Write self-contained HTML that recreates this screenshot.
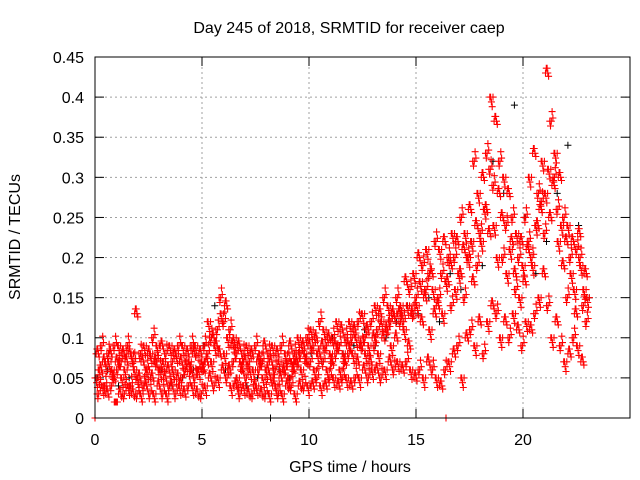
<!DOCTYPE html>
<html><head><meta charset="utf-8"><style>
body{margin:0;background:#fff}
svg{display:block;font-family:"Liberation Sans",sans-serif;font-size:16px}
</style></head><body>
<svg id="chart" width="640" height="480">
<text x="349" y="33" text-anchor="middle">Day 245 of 2018, SRMTID for receiver caep</text>
<text x="350" y="472" text-anchor="middle">GPS time / hours</text>
<text transform="translate(20,237) rotate(-90)" text-anchor="middle">SRMTID / TECUs</text>
<g id="grid"></g>
<g id="ticks"></g>
<g id="black"></g>
<g id="red"></g>
<rect x="95" y="57" width="535" height="361" fill="none" stroke="#000"/>
</svg>
<script>
const xTicks=[0,5,10,15,20];
const yTicks=[0,0.05,0.1,0.15,0.2,0.25,0.3,0.35,0.4,0.45];
const yTickLabels=["0","0.05","0.1","0.15","0.2","0.25","0.3","0.35","0.4","0.45"];
const step=0.2;
const redA=[5,6,4,7,5,6,5,7,4,6,5,4,6,5,7,6,5,4,6,5,5,7,6,5,6,6,8,7,9,15,8,6,7,5,6,5,6,4,6,5,6,5,4,5,6,5,6,7,6,7,7,6,8,7,6,7,8,6,7,8,8,7,9,8,7,9,8,10,11,9,10,12,11,9,13,14,12,16,11,13,15,13,17,14,16,18,15,20,17,19,22,26,31,24,28,20,18,22,16,15,17,22,19,24,27,28,25,30,22,19,15,18,13,20,16];
const redB=[8,9,7,8,9,9,8,9,8,13,8,9,8,10,9,9,8,9,8,9,9,8,9,9,8,9,12,10,11,13,14,11,10,9,8,9,8,9,8,9,8,9,8,9,8,9,8,10,9,10,11,10,12,11,10,10,12,11,10,12,11,12,13,11,12,14,13,15,14,13,15,14,17,16,18,20,19,21,18,22,21,22,20,23,22,25,23,26,32,28,30,33,40,37,32,30,28,25,23,22,25,30,33,28,32,43,37,33,30,25,24,22,21,19,18];
const redC=[3,4,3,4,2,3,3,4,3,3,3,4,3,3,4,3,3,4,3,4,3,4,4,3,3,4,5,4,5,6,5,4,4,3,4,3,3,4,3,3,3,4,3,3,4,4,3,4,4,4,4,5,4,4,5,5,4,5,5,4,5,5,6,5,6,6,5,6,7,6,7,6,7,6,5,6,5,7,6,5,4,6,7,8,9,5,10,11,9,12,8,12,14,13,10,12,10,13,11,9,12,11,13,15,18,14,10,12,9,7,8,10,9,7,12];
const redD=[6,7,8,6,7,7,6,8,7,5,7,6,8,7,6,7,6,7,8,7,6,7,8,6,7,7,10,9,8,12,10,9,8,7,7,7,6,7,7,6,7,6,7,6,7,7,7,8,8,9,9,8,9,9,8,9,9,8,9,10,10,9,10,9,10,11,12,11,12,13,13,12,14,13,15,17,15,18,16,14,18,17,19,20,18,21,20,22,24,23,26,23,29,20,25,24,21,18,20,19,21,20,24,26,23,31,29,26,24,22,20,16,23,14,15];
const blackStep=0.5;
const blackY=[5,6,4,5,3,5,6,4,5,6,9,14,6,5,4,5,3,6,5,6,8,7,10,8,9,11,9,10,12,14,13,15,12,18,16,22,19,32,28,39,25,18,22,28,34,24,15];
const zeroRedT=[0,16.4];
const zeroBlackT=[8.2];
const NS="http://www.w3.org/2000/svg";
const X=t=>95+t*21.4;
const Y=v=>418-v*(361/0.45);
function el(tag,attrs,parent){const e=document.createElementNS(NS,tag);for(const k in attrs)e.setAttribute(k,attrs[k]);parent.appendChild(e);return e;}
const grid=document.getElementById('grid'),ticks=document.getElementById('ticks');
xTicks.forEach(t=>{const x=X(t);
 if(t>0){const g=el('line',{x1:x,x2:x,y1:57,y2:418,stroke:'#a0a0a0','stroke-dasharray':'2,3'},grid);}
 el('line',{x1:x,x2:x,y1:418,y2:409,stroke:'#000'},ticks);el('line',{x1:x,x2:x,y1:57,y2:66,stroke:'#000'},ticks);
 const tx=el('text',{x:x,y:445,'text-anchor':'middle'},ticks);tx.textContent=t;
 });
yTicks.forEach((v,i)=>{const y=Y(v);
 if(i>0){const g=el('line',{x1:95,x2:630,y1:y,y2:y,stroke:'#a0a0a0','stroke-dasharray':'2,3'},grid);}
 el('line',{x1:95,x2:104,y1:y,y2:y,stroke:'#000'},ticks);el('line',{x1:621,x2:630,y1:y,y2:y,stroke:'#000'},ticks);
 const tx=el('text',{x:84,y:y+6,'text-anchor':'end'},ticks);tx.textContent=yTickLabels[i];
 });
function plus(t,v){const x=X(t),y=Y(v);return `M${(x-3.5).toFixed(1)} ${y.toFixed(1)}h7M${x.toFixed(1)} ${(y-3.5).toFixed(1)}v7`;}
let bd='';blackY.forEach((v,i)=>{bd+=plus(i*blackStep+0.1,v/100);});
zeroBlackT.forEach(t=>{bd+=plus(t,0);});
const bp=el('path',{d:bd,stroke:'#000',fill:'none','stroke-width':1},document.getElementById('black'));


let rd='';
const series=[redA,redB,redC,redD];
const offs=[0,0.05,0.1,0.15];
const shifts=[0,0.006,-0.006,0.012,-0.004];
shifts.forEach((dv,p)=>{series.forEach((arr,s)=>{arr.forEach((v,i)=>{
  const sgn=((i+s+p)%3)-1;
  rd+=plus(i*step+offs[s]+p*0.037,Math.max(0.02,v/100+dv*sgn));});});});
zeroRedT.forEach(t=>{rd+=plus(t,0);});
const rp=el('path',{d:rd,stroke:'#ff0000',fill:'none','stroke-width':1.1},document.getElementById('red'));


</script>
</body></html>
